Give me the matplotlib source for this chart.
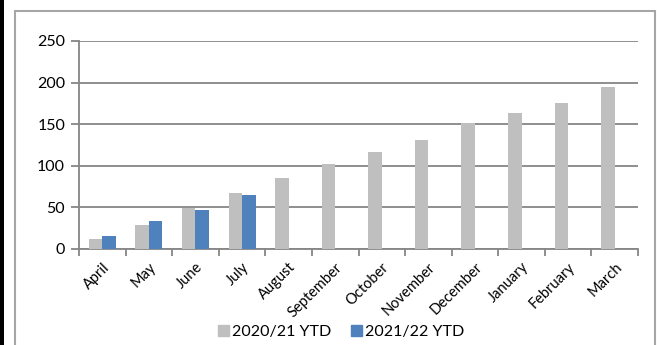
import matplotlib
matplotlib.use("Agg")
import matplotlib.pyplot as plt
from matplotlib.patches import Rectangle, Patch
import numpy as np

months = ["April", "May", "June", "July", "August", "September", "October",
          "November", "December", "January", "February", "March"]
ytd_2021 = [12, 29, 49, 67, 85, 102, 116, 131, 151, 163, 175, 195]
ytd_2122 = [16, 34, 47, 65]

grey = "#bfbfbf"
blue = "#4f81bd"
line_col = "#868686"

plt.rcParams['font.family'] = ['Lato', 'DejaVu Sans']

fig = plt.figure(figsize=(6.57, 3.45), dpi=100)

# outer frame of the chart + black strip on the left edge
fig.patches.append(Rectangle((0, 0), 4 / 657, 1, transform=fig.transFigure,
                             facecolor="black", edgecolor="none", zorder=-2))
fig.patches.append(Rectangle((15 / 657, -0.05), 640 / 657, 1 - 11 / 345 + 0.05,
                             transform=fig.transFigure, facecolor="white",
                             edgecolor="#a6a6a6", linewidth=1.5, zorder=-2))

ax = fig.add_axes([79 / 657, 1 - 249 / 345, 559 / 657, 208 / 345])
ax.set_facecolor("none")

x = np.arange(len(months))
w = 0.29
ax.bar(x - w / 2, ytd_2021, width=w, color=grey, zorder=3)
ax.bar(x[:len(ytd_2122)] + w / 2, ytd_2122, width=w, color=blue, zorder=3)

ax.set_xlim(-0.5, len(months) - 0.5)
ax.set_ylim(0, 250)
ax.set_yticks(range(0, 251, 50))
ax.yaxis.grid(True, color=line_col, linewidth=1.3, zorder=1)
ax.set_axisbelow(True)

for s in ["top", "right"]:
    ax.spines[s].set_visible(False)
for s in ["left", "bottom"]:
    ax.spines[s].set_color(line_col)
    ax.spines[s].set_linewidth(1.3)

ax.set_xticks(x)
ax.set_xticklabels(months, rotation=45, ha="right", rotation_mode="anchor")
ax.set_xticks(np.arange(-0.5, len(months)), minor=True)
ax.tick_params(axis="x", which="major", length=0, pad=8, labelsize=10.5)
ax.tick_params(axis="x", which="minor", length=5, width=1.3, color=line_col)
ax.tick_params(axis="y", length=6, width=1.3, color=line_col, labelsize=11.5, pad=4)

handles = [Patch(color=grey, label="2020/21 YTD"),
           Patch(color=blue, label="2021/22 YTD")]
fig.legend(handles=handles, loc="center", bbox_to_anchor=(341 / 657, 1 - 332 / 345),
           ncol=2, frameon=False, fontsize=11.5, handlelength=0.7, handleheight=0.7,
           handletextpad=0.2, columnspacing=1.2, borderaxespad=0)

fig.savefig("out.png", dpi=100)
